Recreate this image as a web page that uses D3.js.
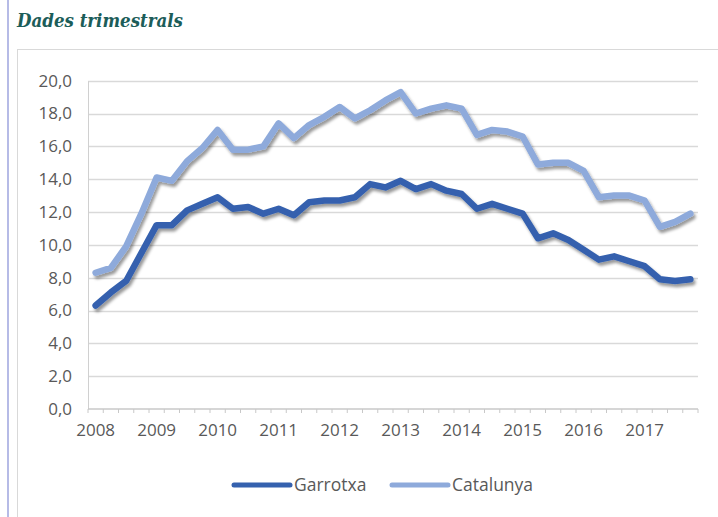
<!DOCTYPE html>
<html>
<head>
<meta charset="utf-8">
<script src="https://cdn.jsdelivr.net/npm/d3@7"></script>
<style>
  body { margin: 0; background: #fff; }
  .canvas { width: 718px; height: 517px; overflow: hidden; }
  text { font-family: "Open Sans", sans-serif; fill: #595959; }
</style>
</head>
<body>
<div class="canvas"></div>
<script>
const years = ["2008", "2009", "2010", "2011", "2012", "2013", "2014", "2015", "2016", "2017"];
const quarters = ["T1", "T2", "T3", "T4"];
const garrotxa = [
  6.3, 7.1, 7.8, 9.5, 11.2, 11.2, 12.1, 12.5, 12.9, 12.2,
  12.3, 11.9, 12.2, 11.8, 12.6, 12.7, 12.7, 12.9, 13.7, 13.5,
  13.9, 13.4, 13.7, 13.3, 13.1, 12.2, 12.5, 12.2, 11.9, 10.4,
  10.7, 10.3, 9.7, 9.1, 9.3, 9.0, 8.7, 7.9, 7.8, 7.9,
];
const catalunya = [
  8.3, 8.6, 9.9, 11.9, 14.1, 13.9, 15.1, 15.9, 17.0, 15.8,
  15.8, 16.0, 17.4, 16.5, 17.3, 17.8, 18.4, 17.7, 18.2, 18.8,
  19.3, 18.0, 18.3, 18.5, 18.3, 16.7, 17.0, 16.9, 16.6, 14.9,
  15.0, 15.0, 14.5, 12.9, 13.0, 13.0, 12.7, 11.1, 11.4, 11.9,
];
const yTicks = [0, 2, 4, 6, 8, 10, 12, 14, 16, 18, 20];
const seriesNames = ["Garrotxa", "Catalunya"];
const seriesColors = ["#3561ae", "#8eaadb"];

const categories = years.flatMap((y) => quarters.map((q) => `${y}-${q}`));
const series = [garrotxa, catalunya];

const width = 718;
const height = 517;
const plot = { left: 88, right: 698, top: 80.7, bottom: 409 };

const svg = d3
  .select(".canvas")
  .append("svg")
  .attr("width", width)
  .attr("height", height);

// drop shadow like the original
const filter = svg
  .append("defs")
  .append("filter")
  .attr("id", "shadow")
  .attr("x", "-10%")
  .attr("y", "-10%")
  .attr("width", "120%")
  .attr("height", "130%");
filter
  .append("feDropShadow")
  .attr("dx", 2)
  .attr("dy", 3)
  .attr("stdDeviation", 1.8)
  .attr("flood-color", "#000")
  .attr("flood-opacity", 0.4);

// page frame
svg
  .append("line")
  .attr("x1", 8).attr("x2", 8)
  .attr("y1", 0).attr("y2", height)
  .attr("stroke", "#b6bbe6")
  .attr("stroke-width", 2);

svg
  .append("rect")
  .attr("x", 17.5)
  .attr("y", 49.5)
  .attr("width", 720)
  .attr("height", 520)
  .attr("fill", "none")
  .attr("stroke", "#d9d9d9");

svg
  .append("text")
  .attr("x", 17)
  .attr("y", 27)
  .style("font-family", "'DejaVu Serif', serif")
  .style("font-weight", "bold")
  .style("font-style", "italic")
  .style("font-size", "18.5px")
  .style("fill", "#1c5d59")
  .attr("textLength", 166)
  .attr("lengthAdjust", "spacingAndGlyphs")
  .text("Dades trimestrals");

const x = d3
  .scaleBand()
  .domain(categories)
  .range([plot.left, plot.right]);

const y = d3
  .scaleLinear()
  .domain([0, 20])
  .range([plot.bottom, plot.top]);

const fmt = (d) => d3.format(".1f")(d).replace(".", ",");

// gridlines
svg
  .append("g")
  .selectAll("line")
  .data(yTicks.filter((d) => d > 0))
  .enter()
  .append("line")
  .attr("x1", plot.left)
  .attr("x2", plot.right)
  .attr("y1", (d) => Math.round(y(d)) + 0.5)
  .attr("y2", (d) => Math.round(y(d)) + 0.5)
  .attr("stroke", "#d9d9d9")
  .attr("stroke-width", 1.5);

// y axis
const yAxis = svg
  .append("g")
  .attr("transform", `translate(${plot.left},0)`)
  .call(d3.axisLeft(y).tickValues(yTicks).tickFormat(fmt).tickSize(0).tickPadding(16));
yAxis.select(".domain").attr("stroke", "#d0d0d0");
yAxis.selectAll("text").style("font-size", "17px").style("font-family", "'Open Sans', sans-serif").attr("fill", "#595959");

// x axis line + ticks at category boundaries
const xAxis = svg.append("g").attr("transform", `translate(0,${plot.bottom})`);
xAxis
  .append("line")
  .attr("x1", plot.left)
  .attr("x2", plot.right)
  .attr("stroke", "#c8c8c8")
  .attr("stroke-width", 1.5);
xAxis
  .selectAll(".qtick")
  .data(categories.concat([null]))
  .enter()
  .append("line")
  .attr("class", "qtick")
  .attr("x1", (d) => (d ? x(d) : plot.right))
  .attr("x2", (d) => (d ? x(d) : plot.right))
  .attr("y1", 0)
  .attr("y2", 4)
  .attr("stroke", "#c8c8c8");

const xLabels = svg
  .append("g")
  .attr("transform", `translate(0,${plot.bottom})`)
  .call(
    d3
      .axisBottom(x)
      .tickValues(categories.filter((d) => d.endsWith("T1")))
      .tickFormat((d) => d.slice(0, 4))
      .tickSize(0)
      .tickPadding(15)
  );
xLabels.select(".domain").remove();
xLabels.selectAll("text").style("font-size", "17px").style("font-family", "'Open Sans', sans-serif").attr("fill", "#595959");

// lines
const line = d3
  .line()
  .x((d, i) => x(categories[i]) + x.bandwidth() / 2)
  .y((d) => y(d));

svg
  .append("g")
  .selectAll("path")
  .data(series)
  .enter()
  .append("path")
  .attr("d", line)
  .attr("fill", "none")
  .attr("stroke", (d, i) => seriesColors[i])
  .attr("stroke-width", 6.5)
  .attr("stroke-linejoin", "round")
  .attr("stroke-linecap", "round")
  .attr("filter", "url(#shadow)");

// legend
const legendX = [232, 390];
const legend = svg
  .append("g")
  .selectAll("g")
  .data(seriesNames)
  .enter()
  .append("g")
  .attr("transform", (d, i) => `translate(${legendX[i]},485)`);
legend
  .append("line")
  .attr("x1", 2)
  .attr("x2", 58)
  .attr("stroke", (d, i) => seriesColors[i])
  .attr("stroke-width", 5)
  .attr("stroke-linecap", "round");
legend
  .append("text")
  .attr("x", 62)
  .attr("y", 6)
  .style("font-size", "17.5px")
  .text((d) => d);
</script>
</body>
</html>
